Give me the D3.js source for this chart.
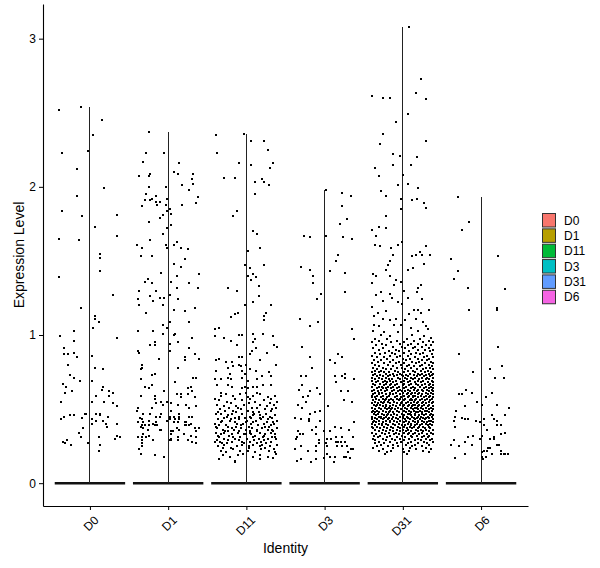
<!DOCTYPE html>
<html>
<head>
<meta charset="utf-8">
<script src="https://cdn.jsdelivr.net/npm/d3@7"></script>
<style>
  body { margin: 0; background: #fff; }
  text { font-family: "Liberation Sans", Arial, sans-serif; }
</style>
</head>
<body>
<svg id="chart"></svg>
<script>
const identities = ["D0", "D1", "D11", "D3", "D31", "D6"];
const identityColors = ["#F8766D", "#B79F00", "#00BA38", "#00BFC4", "#619CFF", "#F564E3"];
const yTicks = [0, 1, 2, 3];

// expressing cells: [expression level, [jitter of each cell, % of category step]]
// (cells at 0 make the solid bar along the baseline)
const cellsD0 = [
  [2.54,[-11]],[2.52,[-40]],[2.45,[16]],[2.35,[4]],[2.24,[-2]],[2.23,[-36]],[2.12,[-17]],[1.99,[18]],
  [1.94,[-17]],[1.84,[-36]],[1.81,[35]],[1.80,[-10]],[1.73,[6]],[1.67,[35]],[1.65,[-39]],[1.64,[-14]],
  [1.55,[13]],[1.52,[13]],[1.43,[13]],[1.39,[-39]],[1.27,[30]],[1.18,[-11]],[1.13,[6]],[1.11,[7]],
  [1.09,[11]],[1.05,[4]],[1.03,[-21]],[0.99,[-38]],[0.98,[34]],[0.96,[-21]],[0.91,[-33]],[0.88,[-20]],
  [0.87,[-33,-28]],[0.86,[2]],[0.85,[-17]],[0.80,[-28]],[0.78,[7]],[0.77,[17]],[0.73,[-26]],[0.71,[-21]],
  [0.69,[-13,3]],[0.67,[-35]],[0.65,[-30,17]],[0.63,[16]],[0.62,[25,-23]],[0.61,[30,-32]],[0.59,[8,25]],
  [0.55,[-37,3,18]],[0.54,[30]],[0.52,[34]],[0.47,[-5,-6,8,13]],[0.46,[13,-26,-20]],[0.45,[-33,23]],
  [0.44,[-10]],[0.43,[-37,2]],[0.42,[8,17]],[0.40,[3,21,34]],[0.38,[22]],[0.37,[-9]],[0.34,[-14]],
  [0.32,[35]],[0.31,[-11,11,39]],[0.30,[32]],[0.29,[-29]],[0.28,[-34]],[0.27,[-32,-3]],[0.26,[-24,13]],[0.22,[11]]
];
const cellsD1 = [
  [2.37,[-25]],[2.23,[-28,-5]],[2.17,[-32]],[2.16,[14]],[2.10,[8]],[2.09,[12,-23,32]],[2.07,[-25,-37]],
  [2.05,[31]],[2.02,[32]],[2.01,[18]],[2.00,[-25,-3]],[1.98,[27]],[1.95,[-28]],[1.94,[-15]],[1.93,[38]],
  [1.92,[-21,-2]],[1.91,[-23,-29]],[1.90,[-10,-15]],[1.89,[35]],[1.88,[-3,-14,18]],[1.87,[-33]],[1.85,[2]],
  [1.84,[-1]],[1.82,[3]],[1.81,[-7]],[1.79,[-11]],[1.76,[-24]],[1.74,[3]],[1.72,[-2]],[1.68,[-7]],
  [1.64,[-23]],[1.63,[11]],[1.61,[-40,-3,8]],[1.59,[-33,-2,16]],[1.58,[25]],[1.53,[-35,-21]],[1.51,[22]],
  [1.48,[7]],[1.46,[17]],[1.42,[-9]],[1.41,[39]],[1.40,[11]],[1.38,[-26]],[1.36,[-30,4]],[1.35,[-21,27]],
  [1.32,[38,11]],[1.30,[-15,-37]],[1.27,[2]],[1.26,[-23]],[1.25,[-11,-5]],[1.24,[-38,13]],[1.23,[-20]],
  [1.20,[-6,-37]],[1.18,[34]],[1.17,[7]],[1.16,[21]],[1.15,[-28]],[1.09,[2,26]],[1.07,[-6]],[1.05,[-1]],
  [1.03,[-39,-19]],[1.01,[-7,9]],[1.00,[8]],[0.98,[31]],[0.95,[-17,13]],[0.94,[2]],[0.93,[-23,-17]],
  [0.91,[26]],[0.89,[-38,2]],[0.88,[-37]],[0.87,[34]],[0.85,[21]],[0.84,[-12,39]],[0.83,[22]],[0.80,[-33]],
  [0.78,[-34,13]],[0.77,[-35]],[0.74,[-17]],[0.73,[-21]],[0.71,[32,35]],[0.70,[-35]],[0.68,[9]],[0.66,[-21]],
  [0.65,[-30,29]],[0.64,[-25,25]],[0.62,[-5,31]],[0.60,[11,16,25]],[0.59,[-35,-17]],[0.58,[16,34]],
  [0.57,[-17]],[0.55,[-9,-1]],[0.54,[-15,4]],[0.53,[-7,13,23]],[0.52,[35]],[0.51,[-39,-21,27]],
  [0.49,[-40,3]],[0.47,[-32,-23,-9,14]],[0.45,[-11,-16,2,8,14,26,31]],[0.44,[-36]],[0.43,[-34,9,2,14]],
  [0.42,[-25,-1]],[0.41,[-32,23,-16,-39,8,12,21]],[0.40,[-19,29]],[0.39,[-34,-30,-24,-14,-17,22,23,27]],
  [0.38,[-35]],[0.37,[39,-32,11,34]],[0.36,[-26,-11,-9,14]],[0.35,[3,6,36]],[0.33,[-32,4,20]],
  [0.32,[29,-25]],[0.31,[-38,-34,-28,13,36]],[0.30,[4]],[0.29,[-33,-20,2,3,12,25]],[0.28,[31]],
  [0.27,[36,-33]],[0.25,[-34]],[0.23,[-37]],[0.20,[-35]],[0.19,[-17]],[0.18,[-5]]
];
const cellsD11 = [
  [2.36,[-3]],[2.35,[-39]],[2.31,[6,22]],[2.25,[27]],[2.23,[-38]],[2.16,[-10,34]],[2.15,[6]],[2.13,[30]],
  [2.06,[-29,-14]],[2.05,[20]],[2.03,[23,11]],[2.01,[29]],[1.95,[11]],[1.84,[-12]],[1.80,[-17]],[1.70,[8]],
  [1.68,[14]],[1.59,[17]],[1.57,[2]],[1.47,[23,-2]],[1.45,[4]],[1.41,[8]],[1.40,[2]],[1.39,[12]],[1.37,[6]],
  [1.33,[16]],[1.32,[-24]],[1.30,[-12]],[1.26,[16]],[1.22,[9]],[1.20,[-2,32]],[1.15,[-11,25]],[1.14,[-15]],
  [1.13,[23]],[1.12,[-20]],[1.10,[22]],[1.05,[-35]],[1.04,[-40]],[1.01,[9,21]],[1.00,[-10,-6]],
  [0.99,[-40,34]],[0.98,[-29]],[0.97,[11]],[0.96,[-20]],[0.95,[9]],[0.93,[-12,35]],[0.92,[39]],[0.91,[12]],
  [0.89,[7]],[0.88,[26]],[0.87,[4]],[0.85,[-10,-5]],[0.84,[-35]],[0.83,[-39,18]],[0.82,[-26,-19]],
  [0.80,[-9,-1,38]],[0.79,[-17,-7]],[0.78,[-24]],[0.77,[4]],[0.76,[-39,-5,12]],[0.75,[29]],[0.74,[-21,-2]],
  [0.72,[20,32]],[0.71,[-24,-5]],[0.70,[-40,-33,-20,14]],[0.69,[2]],[0.66,[-38,-23,21,32]],
  [0.65,[-19,-2,8,13]],[0.64,[-6,2]],[0.61,[-33,-1,14]],[0.60,[-26,-8,17]],[0.59,[-32,-17,8,36]],
  [0.58,[2,27]],[0.57,[-40,-15,4,32]],[0.56,[-35,-6,22]],[0.55,[-25,11,39]],[0.54,[-20,3,30]],
  [0.53,[-38,-3,18,35]],[0.52,[-29,26,-13]],[0.51,[-11,13,7,-22,38]],[0.50,[-34,-7,24,33]],
  [0.49,[-27,2,31,-17]],[0.48,[-13,16,-36,9]],[0.47,[-39,-32,-19,-5,10,25]],[0.46,[36,9,-24,18]],
  [0.45,[-25,4,30,21,-9]],[0.44,[-10,17,-28,-15,6,33,-2]],[0.43,[-36,-9,19,-20,28]],
  [0.42,[-21,12,39,-31,1]],[0.41,[-1,26,-33,9,-14,34]],[0.40,[-40,-4,22,35,-12,6]],
  [0.39,[-26,15,31,-35,-7]],[0.38,[-13,3,29,-24,24,-39]],[0.37,[-37,-7,7,20,39,-18]],
  [0.36,[-30,-16,0,27,13,33]],[0.35,[-27,14,34,-23,-9,5]],[0.34,[-39,-11,5,18,31,-29]],
  [0.33,[-32,-19,-3,37,6,0,24]],[0.32,[11,23,-22,-36]],[0.31,[-35,-8,8,21,33,36,-17]],
  [0.30,[-29,-14,1,28,38,16]],[0.29,[-10,-37,-24,10,22]],[0.28,[-40,-34,-18,4,19,32,-6]],
  [0.27,[-25,-3,13,25,-31]],[0.26,[-28,-5,9,39,20]],[0.25,[-36,-12,17,30,3]],[0.24,[-20,3,24,-30]],
  [0.23,[-17,19,35]],[0.22,[-33,-8,2,29]],[0.21,[-26,11,36]],[0.20,[38,-4]],[0.19,[-30,-11,17]],
  [0.18,[-21,8,27]],[0.17,[34]],[0.16,[-35,18]],[0.15,[-14]],[0.14,[-15]]
];
const cellsD3 = [
  [1.98,[2]],[1.96,[22]],[1.94,[34]],[1.87,[22]],[1.78,[29]],[1.75,[20]],[1.67,[-26,2]],[1.66,[-19,23]],
  [1.65,[35]],[1.54,[17]],[1.50,[14]],[1.46,[-30]],[1.44,[-19]],[1.43,[7]],[1.42,[26]],[1.40,[-15]],
  [1.35,[-15]],[1.29,[26]],[1.28,[-5]],[1.24,[-10]],[1.11,[-32]],[1.09,[-9]],[1.06,[-19]],[1.04,[35]],
  [0.97,[38]],[0.92,[-29]],[0.87,[17]],[0.85,[-19,22]],[0.83,[7]],[0.81,[13]],[0.78,[-16]],
  [0.74,[26]],[0.72,[-30,-24,13,22]],[0.71,[26]],[0.70,[38]],[0.68,[14]],[0.66,[-29]],[0.64,[-10]],
  [0.63,[-33]],[0.62,[21,30,-19]],[0.60,[-6]],[0.59,[-21]],[0.58,[-28]],[0.56,[25]],[0.55,[-24,35]],
  [0.53,[-34]],[0.52,[4]],[0.51,[-29]],[0.49,[-6]],[0.48,[-12]],[0.47,[-19]],[0.44,[-38]],
  [0.43,[-30,-20]],[0.42,[-20,-6]],[0.41,[38]],[0.38,[-11,13]],[0.37,[21]],[0.36,[-16,31]],
  [0.35,[-34,-1,7]],[0.33,[-32,-28,-11]],[0.31,[-35,14,22,36]],[0.30,[-37,3,8]],[0.29,[-7]],
  [0.28,[14,17,21,26]],[0.27,[-7,2]],[0.25,[-30,-11,3,16,22,29]],[0.23,[-38,34,36]],[0.22,[-21,-11]],
  [0.21,[30]],[0.20,[3]],[0.18,[7,13,25,27]],[0.17,[32,-1]],[0.16,[-11,-30]],[0.15,[-35]],[0.14,[-17,12]]
];
const cellsD31 = [
  [3.08,[8]],[2.73,[23]],[2.63,[17]],[2.61,[-39]],[2.60,[-25,-17]],[2.59,[30]],[2.49,[7]],[2.44,[-9]],
  [2.36,[-25]],[2.31,[30]],[2.29,[-29]],[2.22,[-12]],[2.21,[-3]],[2.20,[18]],[2.15,[-12,11]],[2.13,[-35]],
  [2.08,[0]],[2.07,[-30]],[2.02,[6]],[2.01,[-6]],[1.99,[20]],[1.97,[-28]],[1.94,[-22]],[1.92,[-2,18]],
  [1.91,[12]],[1.89,[27]],[1.86,[30]],[1.85,[-2]],[1.80,[-22]],[1.73,[-30]],[1.72,[-21]],[1.71,[-40]],
  [1.67,[-34]],[1.63,[-1]],[1.61,[-35,-6]],[1.60,[-29,30]],[1.59,[-15]],[1.56,[22]],[1.54,[25,35,-12,17]],
  [1.53,[12]],[1.50,[-17]],[1.48,[27]],[1.47,[-19]],[1.45,[13]],[1.44,[-22,6]],[1.41,[-38]],[1.40,[-34,-17]],
  [1.37,[-9]],[1.36,[-2]],[1.35,[-39]],[1.34,[-11,23]],[1.32,[20]],[1.30,[2]],[1.29,[18,-28]],[1.28,[-17]],
  [1.27,[-34]],[1.25,[-14,6]],[1.24,[25]],[1.23,[-26]],[1.22,[-6]],[1.21,[-1]],[1.19,[-39]],[1.17,[14,20,34]],
  [1.16,[-21]],[1.15,[23,-32]],[1.14,[8]],[1.13,[-37]],[1.11,[-26,-9,17]],[1.10,[-16,3]],[1.09,[26]],
  [1.07,[-37,-11,-2]],[1.06,[-30,30]],[1.05,[11]],[1.04,[32]],[1.03,[-38,20]],[1.02,[-24,-6]],
  [1.00,[-28,12]],[0.99,[-17,27]],[0.98,[36]],
  [0.97,[-36,-20,5,22]],[0.96,[-30,-8,14,33]],[0.95,[-39,-15,2,26,38]],[0.94,[-27,-4,10,19]],
  [0.93,[-34,-21,7,30,36]],[0.92,[-12,-1,16,24]],[0.91,[-38,-25,3,13,33]],[0.90,[-31,-9,20,28,39]],
  [0.89,[-18,-5,8,35]],[0.88,[-36,-23,-14,1,17,26]],[0.87,[-29,-10,11,22,37]],[0.86,[-39,-16,-3,6,31]],
  [0.85,[-33,-24,-7,15,27,38]],[0.84,[-20,0,9,19,34]],[0.83,[-37,-28,-12,4,24,31]],
  [0.82,[-32,-17,-5,12,21,36]],[0.81,[-40,-24,-9,2,17,28,39]],[0.80,[-35,-19,-2,8,25,33]],
  [0.79,[-30,-13,5,14,22,37]],[0.78,[-38,-26,-8,-1,11,29,35]],[0.77,[-33,-21,-15,3,18,26,39]],
  [0.76,[-36,-28,-10,7,13,23,32]],[0.75,[-40,-31,-18,-6,1,16,28,36,-24]],
  [0.74,[-35,-22,-13,-3,9,20,25,33,38]],[0.73,[-38,-29,-16,-8,4,14,22,30,37,-1]],
  [0.72,[-33,-26,-19,-11,0,7,18,27,35]],[0.71,[-39,-30,-22,-6,3,11,16,24,31,39]],
  [0.70,[-36,-27,-14,-4,5,13,21,29,34,-18]],[0.69,[-40,-32,-23,-16,-9,1,9,19,26,37]],
  [0.68,[-34,-25,-12,-2,6,15,23,32,38,-20]],[0.67,[-38,-29,-21,-7,2,11,17,28,35,-15]],
  [0.66,[-35,-24,-17,-10,0,8,20,25,33,39]],[0.65,[-39,-31,-19,-5,4,13,22,30,36,-27,-13]],
  [0.64,[-33,-26,-15,-8,1,10,16,27,34,38,-21]],[0.63,[-37,-28,-20,-11,-3,6,14,24,31,37,19]],
  [0.62,[-40,-32,-23,-14,-6,3,9,18,26,33,39,-1]],[0.61,[-35,-27,-17,-9,0,7,15,21,29,36,-30,12]],
  [0.60,[-38,-30,-22,-12,-4,5,11,20,25,32,38,-17]],[0.59,[-33,-25,-18,-7,1,8,16,23,30,35,-39,13]],
  [0.58,[-40,-36,-28,-20,-10,-2,6,13,19,27,34,39]],[0.57,[-34,-26,-15,-8,3,10,17,24,31,37,-21,-3]],
  [0.56,[-38,-31,-23,-13,-5,2,9,15,22,28,35,-18,12]],[0.55,[-35,-28,-19,-11,-1,6,14,20,26,33,39,-24]],
  [0.54,[-40,-32,-25,-16,-7,4,11,18,24,30,37,-2]],[0.53,[-37,-29,-21,-12,-4,1,8,16,21,27,34,-33,13]],
  [0.52,[-34,-26,-17,-9,0,7,12,19,25,32,38,-22]],[0.51,[-39,-31,-23,-14,-6,3,10,15,23,29,36,-18,18]],
  [0.50,[-36,-28,-20,-10,-2,5,13,20,26,34,39,-15]],[0.49,[-33,-25,-16,-8,1,8,14,22,28,31,37,-38]],
  [0.48,[-40,-30,-22,-13,-5,4,11,17,24,33,-35,-18,20]],[0.47,[-37,-27,-19,-11,-1,6,9,15,25,30,36,-32]],
  [0.46,[-34,-24,-15,-7,2,10,16,21,27,35,39,-20]],[0.45,[-39,-31,-21,-12,-4,5,12,19,23,32,37,-28,0]],
  [0.44,[-36,-28,-18,-9,0,7,14,18,26,30,34,-24]],[0.43,[-40,-33,-25,-14,-6,3,9,16,22,28,38,-19]],
  [0.42,[-37,-30,-22,-11,-3,4,13,20,25,33,36,-16]],[0.41,[-34,-26,-17,-8,1,8,15,19,27,31,39,-38]],
  [0.40,[-39,-31,-21,-13,-5,6,11,18,24,29,35,-27]],[0.39,[-36,-27,-19,-10,-1,3,10,16,22,32,37]],
  [0.38,[-33,-24,-15,-6,2,9,14,21,26,34,-40]],[0.37,[-38,-29,-20,-12,-4,5,12,19,28,35]],
  [0.36,[-35,-25,-16,-8,0,7,17,23,30,39]],[0.35,[-31,-22,-13,-3,4,11,20,26,33]],
  [0.34,[-39,-27,-18,-9,2,8,15,24,36]],[0.33,[-34,-23,-11,-5,6,13,21,31,38]],
  [0.32,[-37,-29,-16,-1,10,18,27,34]],[0.31,[-32,-20,-7,3,12,25,32]],[0.30,[-38,-26,-14,-4,8,19,29,37]],
  [0.29,[-35,-21,-10,1,15,23,35]],[0.28,[-30,-17,-2,11,27,39]],[0.27,[-36,-24,-8,6,20,31]],
  [0.26,[-28,-13,4,16,34]],[0.25,[-33,-19,-6,12,25]],[0.24,[-38,-12,9,30]],[0.23,[-26,0,17,36]],
  [0.22,[-31,-15,8,26]],[0.21,[-20,2,33]],[0.20,[-23,5]]
];
const cellsD6 = [
  [1.93,[-30]],[1.76,[-16]],[1.71,[-25]],[1.53,[22]],[1.51,[-38]],[1.43,[-29]],[1.38,[-34]],[1.32,[-17]],
  [1.31,[31]],[1.18,[20]],[1.17,[-15,21]],[0.92,[22]],[0.87,[-28]],[0.79,[27]],[0.77,[11]],[0.75,[-10]],
  [0.71,[18,29]],[0.63,[-19]],[0.61,[-11,14]],[0.60,[-24,-28]],[0.58,[6]],[0.55,[-5]],[0.53,[1,20]],
  [0.52,[-20]],[0.51,[36]],[0.49,[-32]],[0.46,[14,31]],[0.45,[-33]],[0.44,[-25]],[0.43,[-21,-17,4,16]],
  [0.42,[-6,20,-35]],[0.41,[-1]],[0.39,[21,25,4]],[0.38,[-33]],[0.36,[7]],[0.34,[31]],[0.33,[26]],
  [0.32,[-10,1]],[0.31,[-17,16]],[0.30,[-1,11,17]],[0.29,[-35]],[0.28,[-21]],[0.26,[-39,21,23,-11]],
  [0.25,[-28]],[0.24,[9,12]],[0.22,[4,8,25]],[0.21,[1]],[0.20,[29,31,35,26,-21,14]],[0.18,[1,6]],
  [0.17,[-33]],[0.16,[2]]
];
const cellGroups = [cellsD0, cellsD1, cellsD11, cellsD3, cellsD31, cellsD6];

const width = 600, height = 568;
const plot = { left: 43, right: 528, top: 4, bottom: 506 };

const svg = d3.select("#chart").attr("width", width).attr("height", height);
svg.append("rect").attr("width", width).attr("height", height).attr("fill", "#fff");

const cells = identities.flatMap((id, i) =>
  cellGroups[i].flatMap(([v, jit]) => jit.map(j => ({ id, v, j }))));
const maxV = d3.max(cells, d => d.v);

// discrete axis like ggplot: 0.6 step padding, continuous axis 5% expansion
const x = d3.scalePoint().domain(identities).range([plot.left, plot.right]).padding(0.6);
const y = d3.scaleLinear().domain([-0.05 * maxV, maxV * 1.05]).range([plot.bottom, plot.top]);
const color = d3.scaleOrdinal().domain(identities).range(identityColors);
const step = x.step();

// violins: mostly zeros, so a wide flat base and a hair-thin spike to the max
const violins = svg.append("g");
identities.forEach((id, i) => {
  const top = d3.max(cellGroups[i], d => d[0]);
  const cx = x(id);
  violins.append("path")
    .attr("d", `M${cx - 0.45 * step},${y(0)}H${cx + 0.45 * step}`)
    .attr("stroke", "#111").attr("stroke-width", 2.4).attr("fill", "none");
  violins.append("line")
    .attr("x1", cx).attr("x2", cx).attr("y1", y(0)).attr("y2", y(top))
    .attr("stroke", "#222").attr("stroke-width", 1)
    .attr("shape-rendering", "crispEdges");
});

// jittered cells
svg.append("g").selectAll("rect")
  .data(cells)
  .join("rect")
  .attr("x", d => x(d.id) + d.j / 100 * step - 1)
  .attr("y", d => y(d.v) - 1)
  .attr("width", 2).attr("height", 2)
  .attr("fill", "#000")
  .attr("shape-rendering", "crispEdges");

// axes
const yAxis = svg.append("g")
  .attr("transform", `translate(${plot.left},0)`)
  .call(d3.axisLeft(y).tickValues(yTicks).tickFormat(d3.format("d"))
    .tickSize(4).tickSizeOuter(0).tickPadding(3));
const xAxis = svg.append("g")
  .attr("transform", `translate(0,${plot.bottom})`)
  .call(d3.axisBottom(x).tickSize(4).tickSizeOuter(0));
[yAxis, xAxis].forEach(a => {
  a.select(".domain").attr("stroke", "#000").attr("stroke-width", 1.1);
  a.selectAll(".tick line").attr("stroke", "#000");
  a.selectAll("text").attr("font-size", 12).attr("fill", "#000")
    .attr("font-family", '"Liberation Sans", Arial, sans-serif');
});
xAxis.selectAll(".tick text")
  .attr("x", 0).attr("y", 0).attr("dy", "0.35em")
  .attr("text-anchor", "end")
  .attr("transform", "translate(6,12) rotate(-45)");

svg.append("text")
  .attr("x", (plot.left + plot.right) / 2).attr("y", 553)
  .attr("text-anchor", "middle").attr("font-size", 14)
  .text("Identity");
svg.append("text")
  .attr("transform", `translate(24,${(plot.top + plot.bottom) / 2}) rotate(-90)`)
  .attr("text-anchor", "middle").attr("font-size", 14)
  .text("Expression Level");

// legend
const legend = svg.append("g").attr("transform", "translate(542,213)");
const row = legend.selectAll("g").data(identities).join("g")
  .attr("transform", (d, i) => `translate(0,${i * 15.35})`);
row.append("rect")
  .attr("x", 0.5).attr("y", 0.5).attr("width", 13).attr("height", 13.5)
  .attr("fill", d => color(d)).attr("stroke", "#333").attr("stroke-width", 1);
row.append("text")
  .attr("x", 22).attr("y", 7.3).attr("dy", "0.35em")
  .attr("font-size", 12)
  .text(d => d);
</script>
</body>
</html>
